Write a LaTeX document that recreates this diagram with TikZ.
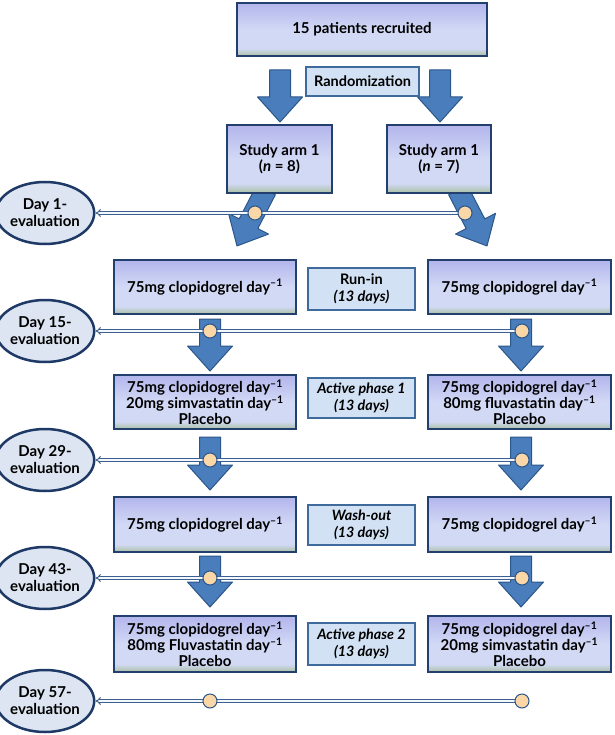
\documentclass[tikz,border=0pt]{standalone}
\usepackage{fontspec}
\setmainfont{Lato}
\usetikzlibrary{arrows.meta,shapes.geometric,calc}

\definecolor{btop}{HTML}{B3B5EC}
\definecolor{bmid}{HTML}{D2D9F5}
\definecolor{bgrn}{HTML}{A9BFA2}
\definecolor{bdraw}{HTML}{223F6E}
\definecolor{lblfill}{HTML}{D2E1F3}
\definecolor{lbldraw}{HTML}{3F6A9C}
\definecolor{arrfill}{HTML}{4A7DBB}
\definecolor{arrdraw}{HTML}{2B5689}
\definecolor{ellfill}{HTML}{DCE5F1}
\definecolor{elldraw}{HTML}{1E3966}
\definecolor{dotfill}{HTML}{FBD7A8}
\definecolor{linedraw}{HTML}{3A5F90}

\pgfdeclareverticalshading{boxshade}{100bp}{color(0bp)=(bgrn); color(25bp)=(bgrn); color(32bp)=(bmid); color(50bp)=(bmid); color(75bp)=(btop); color(100bp)=(btop)}

\newcommand{\blkarrow}[4]{%
  \draw[blk, shift={(#1,#2)}, rotate=#3] (0,-10.5) -- ({#4-25},-10.5) -- ({#4-25},-22.5) -- (#4,0) -- ({#4-25},22.5) -- ({#4-25},10.5) -- (0,10.5) -- cycle;}
\newcommand{\dsup}{\textsuperscript{\textendash1}}

\tikzset{
  bigbox/.style={rectangle, draw=bdraw, line width=2.3pt, shading=boxshade, align=center,
    font=\bfseries\fontsize{15}{16}\selectfont, inner sep=1pt},
  lblbox/.style={rectangle, draw=lbldraw, line width=1.2pt, fill=lblfill, align=center,
    font=\bfseries\fontsize{14.5}{16.5}\selectfont, inner sep=1pt},
  italbox/.style={lblbox, font=\bfseries\itshape\fontsize{14.3}{16.5}\selectfont},
  evalell/.style={ellipse, draw=elldraw, line width=2.5pt, fill=ellfill, minimum width=88,
    minimum height=62, align=center, inner sep=0pt, font=\bfseries\fontsize{15}{17}\selectfont},
  dot/.style={circle, draw=arrdraw, line width=1pt, fill=dotfill, minimum size=14, inner sep=0pt},
  evalline/.style={draw=linedraw, double=white!70!ellfill, double distance=1.6pt, line width=1pt},
  blk/.style={fill=arrfill, draw=arrdraw, line width=1pt, line join=round}
}

\begin{document}
\begin{tikzpicture}[x=1pt,y=-1pt]
\useasboundingbox (0,0) rectangle (614,735);

% block arrows
\blkarrow{280}{70}{-90}{52}
\blkarrow{440}{70}{-90}{52}
\blkarrow{266}{190}{-117.4}{63}
\blkarrow{458}{190}{-62.6}{63}
\blkarrow{210}{319}{-90}{52}
\blkarrow{521}{319}{-90}{52}
\blkarrow{210}{437}{-90}{53}
\blkarrow{521}{437}{-90}{53}
\blkarrow{210}{556}{-90}{51}
\blkarrow{521}{556}{-90}{51}

% boxes
\node[bigbox, minimum width=250, minimum height=53] (top) at (362,29.5) {15 patients recruited};
\node[lblbox, minimum width=113, minimum height=29] (rand) at (362.5,81.5) {Randomization};
\node[bigbox, minimum width=105, minimum height=68] (arm1) at (279.5,159) {Study arm 1\\(\textit{n} = 8)};
\node[bigbox, minimum width=104, minimum height=68] (arm2) at (439,159) {Study arm 1\\(\textit{n} = 7)};

\node[bigbox, minimum width=182, minimum height=54] (r1l) at (205,287) {75mg clopidogrel day\dsup};
\node[bigbox, minimum width=183, minimum height=54] (r1r) at (519.5,287) {75mg clopidogrel day\dsup};
\node[lblbox, minimum width=107, minimum height=42] (m1) at (361.5,289) {Run-in\\\textit{(13 days)}};

\node[bigbox, minimum width=182, minimum height=54] (r2l) at (205,402) {75mg clopidogrel day\dsup\\20mg simvastatin day\dsup\\Placebo};
\node[bigbox, minimum width=183, minimum height=54] (r2r) at (519.5,402) {75mg clopidogrel day\dsup\\80mg fluvastatin day\dsup\\Placebo};
\node[italbox, minimum width=107, minimum height=40] (m2) at (361.5,398) {Active phase 1\\(13 days)};

\node[bigbox, minimum width=182, minimum height=55] (r3l) at (205,524.5) {75mg clopidogrel day\dsup};
\node[bigbox, minimum width=183, minimum height=55] (r3r) at (519.5,524.5) {75mg clopidogrel day\dsup};
\node[italbox, minimum width=107, minimum height=40] (m3) at (361.5,525) {Wash-out\\(13 days)};

\node[bigbox, minimum width=182, minimum height=56] (r4l) at (205,644) {75mg clopidogrel day\dsup\\80mg Fluvastatin day\dsup\\Placebo};
\node[bigbox, minimum width=183, minimum height=56] (r4r) at (519.5,644) {75mg clopidogrel day\dsup\\20mg simvastatin day\dsup\\Placebo};
\node[italbox, minimum width=107, minimum height=42] (m4) at (361.5,644) {Active phase 2\\(13 days)};

% evaluation ellipses
\node[evalell] (e1) at (45,213) {Day 1-\\evaluation};
\node[evalell] (e2) at (45,331) {Day 15-\\evaluation};
\node[evalell] (e3) at (45,460) {Day 29-\\evaluation};
\node[evalell] (e4) at (45,578) {Day 43-\\evaluation};
\node[evalell] (e5) at (45,701) {Day 57-\\evaluation};

% time-point coordinates
\coordinate (p1l) at (255,213); \coordinate (p1r) at (465,213);
\coordinate (p2l) at (210,331); \coordinate (p2r) at (522,331);
\coordinate (p3l) at (210,460); \coordinate (p3r) at (522,460);
\coordinate (p4l) at (210,578); \coordinate (p4r) at (522,578);
\coordinate (p5l) at (210,701); \coordinate (p5r) at (522,701);

% evaluation lines
\foreach \i in {1,...,5}{
  \draw[evalline, {Implies}-] (e\i) -- (p\i r);
}
\foreach \i in {1,...,5}{
  \node[dot] (d\i l) at (p\i l) {};
  \node[dot] (d\i r) at (p\i r) {};
}
\end{tikzpicture}
\end{document}
